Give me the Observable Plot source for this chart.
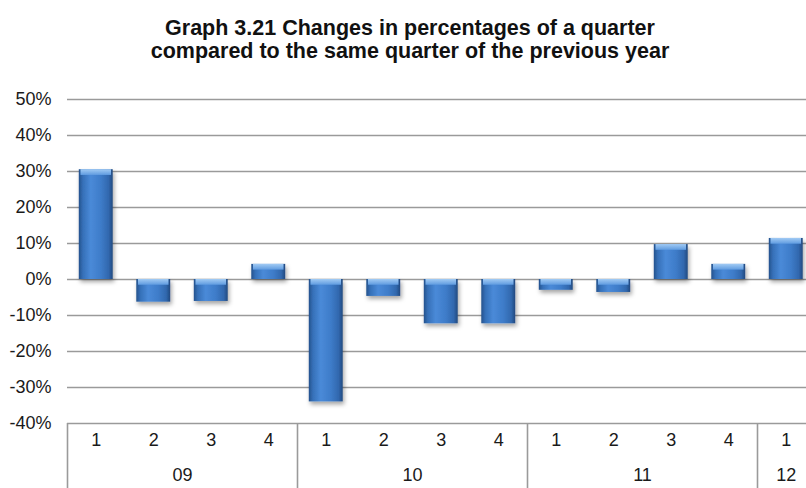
<!DOCTYPE html>
<html>
<head>
<meta charset="utf-8">
<script src="https://cdn.jsdelivr.net/npm/d3@7"></script>
<script src="https://cdn.jsdelivr.net/npm/@observablehq/plot@0.6"></script>
<style>
  html, body { margin: 0; padding: 0; background: #fff; overflow: hidden; }
  #title {
    width: 806px; height: 80px; box-sizing: border-box;
    padding: 17px 0 0 14px;
    font-family: "Liberation Sans", Arial, sans-serif;
    font-weight: bold; font-size: 21.5px; line-height: 23px;
    text-align: center; color: #111;
  }
</style>
</head>
<body>
<div id="title">Graph 3.21 Changes in percentages of a quarter<br>compared to the same quarter of the previous year</div>
<div id="chart"></div>
<script>
// Data
const quarters = ["1","2","3","4","1","2","3","4","1","2","3","4","1"];
const values = [30.5, -6.3, -6.1, 4.2, -34.0, -4.7, -12.3, -12.3, -3.0, -3.6, 9.7, 4.2, 11.4];
const years = ["09", "10", "11", "12"];
const quartersPerYear = [4, 4, 4, 1];
const yTicks = [-40, -30, -20, -10, 0, 10, 20, 30, 40, 50];

const data = values.map((v, i) => ({i, q: quarters[i], v}));
let acc = 0;
const yearRows = years.map((label, k) => {
  const start = acc; acc += quartersPerYear[k];
  return {label, start, n: quartersPerYear[k]};
});

const barInset = 0.205;
const bevel = 1.6;

const svg = Plot.plot({
  width: 806,
  height: 408,
  marginLeft: 67,
  marginRight: 0,
  marginTop: 19,
  marginBottom: 65,
  style: {fontFamily: "'Liberation Sans', Arial, sans-serif", fontSize: "18px", color: "#1a1a1a", background: "#fff", overflow: "visible"},
  x: {domain: [0, 13], range: [67, 814.5], axis: null},
  y: {domain: [-40, 50], ticks: yTicks, tickFormat: d => d + "%", tickSize: 0, tickPadding: 16, label: null},
  marks: [
    Plot.ruleY(yTicks, {stroke: "#9a9a9a", strokeWidth: 1.6}),
    Plot.ruleX(yearRows, {x: "start", y1: -40, y2: -60, stroke: "#9a9a9a", strokeWidth: 1.6}),
    Plot.rectY(data, {x1: d => d.i + barInset, x2: d => d.i + 1 - barInset, y1: 0, y2: "v", fill: "url(#barGrad)"}),
    Plot.rectY(data, {x1: d => d.i + barInset + 0.03, x2: d => d.i + 1 - barInset - 0.03,
      y1: d => Math.max(d.v, 0), y2: d => Math.max(Math.max(d.v, 0) - bevel, Math.min(d.v, 0) + 0.5),
      fill: "url(#bevelGrad)"}),
    Plot.text(data, {x: d => d.i + 0.5, frameAnchor: "bottom", dy: 22, text: "q", fill: "#1a1a1a"}),
    Plot.text(yearRows, {x: d => d.start + d.n / 2, frameAnchor: "bottom", dy: 57, text: "label", fill: "#1a1a1a"})
  ]
});

const s = d3.select(svg);
const defs = s.insert("defs", ":first-child");
const g = defs.append("linearGradient").attr("id", "barGrad").attr("x1", 0).attr("x2", 1).attr("y1", 0).attr("y2", 0);
[["0%", "#25518c"], ["12%", "#3570b8"], ["35%", "#4a8ad8"], ["65%", "#3e7cc9"], ["88%", "#3168ae"], ["100%", "#22497f"]]
  .forEach(([o, c]) => g.append("stop").attr("offset", o).attr("stop-color", c));
const b = defs.append("linearGradient").attr("id", "bevelGrad").attr("x1", 0).attr("x2", 0).attr("y1", 0).attr("y2", 1);
[["0%", "#a2cbf4"], ["100%", "#5f9be0"]].forEach(([o, c]) => b.append("stop").attr("offset", o).attr("stop-color", c));
const f = defs.append("filter").attr("id", "shadow").attr("x", "-30%").attr("y", "-30%").attr("width", "160%").attr("height", "160%");
f.append("feDropShadow").attr("dx", 1.5).attr("dy", 3).attr("stdDeviation", 2).attr("flood-color", "#000").attr("flood-opacity", 0.35);

const rectGroups = s.selectAll("g[aria-label='rect']").nodes();
if (rectGroups.length) d3.select(rectGroups[0]).attr("filter", "url(#shadow)");

document.getElementById("chart").appendChild(svg);
</script>
</body>
</html>
